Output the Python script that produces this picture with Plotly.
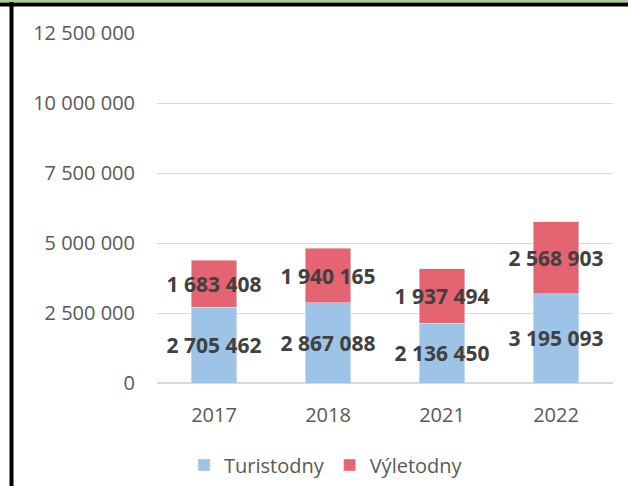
import plotly.graph_objects as go

years = ["2017", "2018", "2021", "2022"]
turistodny = [2705462, 2867088, 2136450, 3195093]
vyletodny = [1683408, 1940165, 1937494, 2568903]
y_ticks = [0, 2500000, 5000000, 7500000, 10000000, 12500000]

BLUE = "#9DC3E6"
RED = "#E46472"
TEXT = "#404040"
AXIS_TEXT = "#595959"
FONT = "Open Sans, Liberation Sans, sans-serif"

fig = go.Figure()
for name, vals, color in [("Turistodny", turistodny, BLUE), ("Výletodny", vyletodny, RED)]:
    fig.add_trace(go.Bar(
        x=years, y=vals, name=name, marker_color=color,
        texttemplate="%{y:,}", textposition="inside",
        insidetextanchor="middle", constraintext="none",
        textfont=dict(family=FONT, size=21, color=TEXT, weight="bold"),
        textangle=0,
    ))

# pixel helpers for the sheet border lines outside the plot
L, R, T, B = 157, 15, 33, 103
W, H = 628, 486
pw, ph = W - L - R, H - T - B


def px(x):
    return (x - L) / pw


def py(y):
    return (H - B - y) / ph


fig.update_layout(
    width=W, height=H,
    barmode="stack", bargap=0.6,
    separators=". ",
    margin=dict(l=L, r=R, t=T, b=B, autoexpand=False),
    plot_bgcolor="white", paper_bgcolor="white",
    font=dict(family=FONT, color=AXIS_TEXT, size=20),
    legend=dict(orientation="h", xref="container", yref="container",
                x=184 / W, xanchor="left", y=1 - 465 / H, yanchor="middle",
                font=dict(size=20, color=AXIS_TEXT), traceorder="normal"),
    xaxis=dict(showline=False, ticks="", ticklabelstandoff=18, automargin=False,
               tickfont=dict(size=20, color=AXIS_TEXT)),
    yaxis=dict(range=[0, 12500000], tickvals=y_ticks, tickformat=",d", automargin=False,
               showgrid=True, gridcolor="#D9D9D9", gridwidth=1,
               zeroline=True, zerolinecolor="#D9D9D9", showline=False,
               ticklabelstandoff=21, tickfont=dict(size=20, color=AXIS_TEXT)),
    shapes=[
        dict(type="line", xref="paper", yref="paper", x0=px(11.5), x1=px(11.5), y0=py(486), y1=py(2),
             line=dict(color="black", width=4)),
        dict(type="line", xref="paper", yref="paper", x0=px(0), x1=px(628), y0=py(4.5), y1=py(4.5),
             line=dict(color="black", width=4)),
        dict(type="line", xref="paper", yref="paper", x0=px(0), x1=px(628), y0=py(1), y1=py(1),
             line=dict(color="#A9D08E", width=2)),
    ],
)

fig.write_html("out.html", config={"displayModeBar": False},
               post_script="document.body.style.margin='0';")
